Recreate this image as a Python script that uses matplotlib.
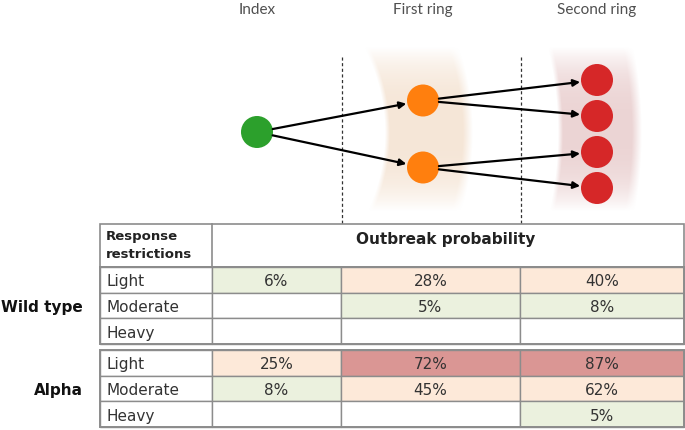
import numpy as np
import matplotlib.pyplot as plt
from matplotlib.patches import Circle, Rectangle, FancyArrowPatch

# ---- data ----
stages = ['Index', 'First ring', 'Second ring']
nodes_per_stage = [1, 2, 4]
node_colors = ['#2ca02c', '#ff7f0e', '#d62728']

variants = ['Wild type', 'Alpha']
restrictions = ['Light', 'Moderate', 'Heavy']
# outbreak probability (%) per restriction level, columns = Index, First ring, Second ring
wild_type = [[6, 28, 40],
             [None, 5, 8],
             [None, None, None]]
alpha = [[25, 72, 87],
         [8, 45, 62],
         [None, None, 5]]
tables = [wild_type, alpha]

# ---- layout (pixels) ----
W, H = 685, 431
stage_x = [257, 423, 597]
stage_spacing = [0, 67, 36]
node_cy = 135
node_r = 16
divider_x = [342, 521]

col_edges = [100, 212, 341, 520, 684]
header_top, header_bot = 225, 268
block_tops = [268, 351]
row_h = 25.7

GREEN, PEACH, RED = '#ebf1de', '#fde9d9', '#da9694'
TXT = '#333333'
GRID = '#8c8c8c'


def cell_color(v):
    if v is None:
        return 'white'
    if v < 10:
        return GREEN
    if v < 70:
        return PEACH
    return RED


fig = plt.figure(figsize=(W / 100, H / 100), dpi=100)
ax = fig.add_axes([0, 0, 1, 1])

# ring bands (soft curved shading around first and second ring)
yy, xx = np.mgrid[0:H, 0:W] + 0.5
cx, cy = 200, 134
rr = np.hypot(xx - cx, yy - cy)
img = np.ones((H, W, 4))
img[..., 3] = 0
vfade = np.clip(1 - (np.abs(yy - 130) / 82) ** 3, 0, 1) * (xx > cx)
for (r0, r1, rgb, peak) in [(185, 273, (236, 205, 175), 0.5),
                            (358, 442, (212, 160, 160), 0.45)]:
    edge = np.clip((rr - r0) / 5, 0, 1) * np.clip((r1 - rr) / 10, 0, 1)
    a = np.clip(peak * edge * vfade, 0, 1)
    on = a > 0
    for k in range(3):
        img[..., k] = np.where(on, rgb[k] / 255, img[..., k])
    img[..., 3] = np.maximum(img[..., 3], a)
ax.imshow(img, extent=(0, W, H, 0), origin='upper', zorder=0, interpolation='bilinear')
ax.set_xlim(0, W)
ax.set_ylim(H, 0)
ax.axis('off')

# stage labels
for x, name in zip(stage_x, stages):
    ax.text(x, 10, name, ha='center', va='center', fontsize=11,
            family='Lato', color='#505050')

# dashed dividers
for x in divider_x:
    ax.plot([x, x], [58, header_top], ls=(0, (2.5, 2)), color='#333333', lw=0.9, zorder=1)

# nodes
positions = []
for x, n, sp, c in zip(stage_x, nodes_per_stage, stage_spacing, node_colors):
    ys = node_cy + (np.arange(n) - (n - 1) / 2) * sp
    if n == 1:
        ys = ys - 2
    pts = [(x, y) for y in ys]
    positions.append(pts)
    for p in pts:
        ax.add_patch(Circle(p, node_r, color=c, zorder=3, lw=0))

# arrows parent -> two children
for s in range(len(positions) - 1):
    for i, (px, py) in enumerate(positions[s]):
        for j in (2 * i, 2 * i + 1):
            qx, qy = positions[s + 1][j]
            d = np.array([qx - px, qy - py])
            u = d / np.hypot(*d)
            start = (px + u[0] * node_r, py + u[1] * node_r)
            end = (qx - u[0] * (node_r + 1), qy - u[1] * (node_r + 1))
            ax.add_patch(FancyArrowPatch(start, end, arrowstyle='-|>', mutation_scale=10,
                                         color='black', lw=1.6, shrinkA=0, shrinkB=0, zorder=4))

# ---- table ----
x0, x1 = col_edges[0], col_edges[-1]
# header
ax.add_patch(Rectangle((x0, header_top), x1 - x0, header_bot - header_top,
                       fc='white', ec=GRID, lw=1.2, zorder=2))
ax.plot([col_edges[1]] * 2, [header_top, header_bot], color=GRID, lw=1.2, zorder=3)
ax.text(106, 237, 'Response', ha='left', va='center', fontsize=9.5,
        fontweight='bold', color='#222222')
ax.text(106, 255, 'restrictions', ha='left', va='center', fontsize=9.5,
        fontweight='bold', color='#222222')
ax.text(356, 240, 'Outbreak probability', ha='left', va='center', fontsize=11,
        fontweight='bold', color='#222222')

for top, vname, data in zip(block_tops, variants, tables):
    for r, level in enumerate(restrictions):
        ytop = top + r * row_h
        ax.add_patch(Rectangle((x0, ytop), col_edges[1] - x0, row_h,
                               fc='white', ec=GRID, lw=1.0, zorder=2))
        ax.text(106, ytop + row_h / 2 + 1, level, ha='left', va='center',
                fontsize=11, color=TXT, zorder=5)
        for c, v in enumerate(data[r]):
            cx0, cx1 = col_edges[c + 1], col_edges[c + 2]
            ax.add_patch(Rectangle((cx0, ytop), cx1 - cx0, row_h,
                                   fc=cell_color(v), ec=GRID, lw=1.0, zorder=2))
            if v is not None:
                ax.text((cx0 + cx1) / 2, ytop + row_h / 2 + 1, f'{v}%', ha='center',
                        va='center', fontsize=11, color=TXT, zorder=5)
    # outer frame of block
    ax.add_patch(Rectangle((x0, top), x1 - x0, row_h * len(restrictions),
                           fc='none', ec=GRID, lw=1.4, zorder=4))
    ax.text(83, top + row_h * 1.5 + 1, vname, ha='right', va='center',
            fontsize=11, fontweight='bold', color='#111111')

fig.savefig('out.png', dpi=100)
